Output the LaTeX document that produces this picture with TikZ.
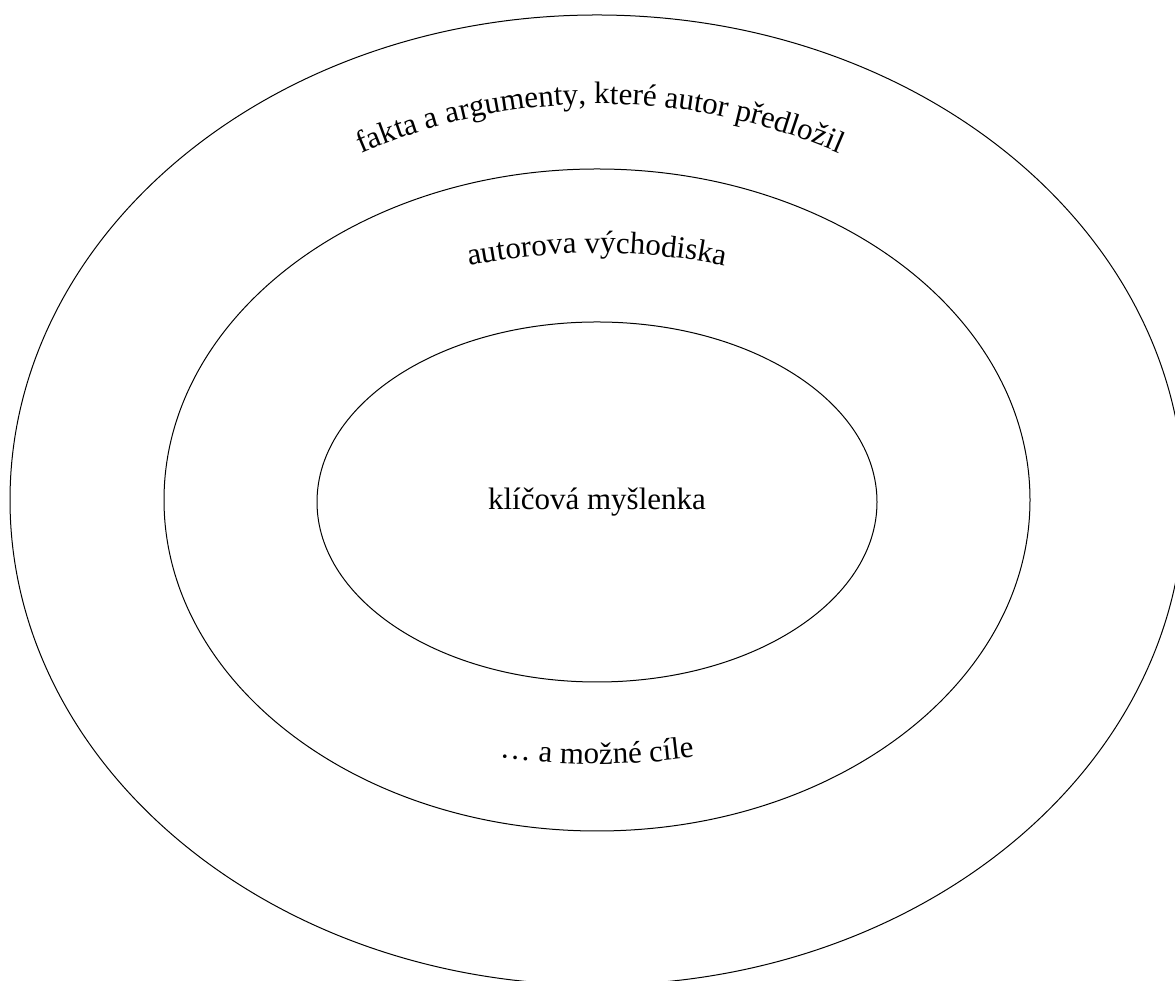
\documentclass[tikz,border=0pt]{standalone}
\usepackage{fontspec}
\setmainfont{Liberation Serif}
\usetikzlibrary{shapes.geometric,decorations.text}
\tikzset{
  ring/.style={ellipse, draw=black, line width=1pt, inner sep=0pt},
  lbl/.style={font=\fontsize{31}{36}\selectfont},
}
\begin{document}
\begin{tikzpicture}[x=1pt,y=1pt]
\useasboundingbox (0,0) rectangle (1175,981);
\clip (0,0) rectangle (1175,981);
\node[ring, minimum width=1174pt, minimum height=970pt] (outer) at (597,481) {};
\node[ring, minimum width=866pt, minimum height=662pt] (middle) at (597,481) {};
\node[ring, minimum width=560pt, minimum height=360pt, lbl] (inner) at (597,479) {klíčová myšlenka};
\path[decorate, decoration={text along path, text align=center,
  text={|\fontsize{31}{36}\selectfont|fakta a argumenty{,} které autor předložil}}]
  (600,277) ++(120:600) arc[start angle=120, end angle=60, radius=600];
\path[decorate, decoration={text along path, text align=center,
  text={|\fontsize{31}{36}\selectfont|autorova východiska}}]
  (597,78) ++(110:650) arc[start angle=110, end angle=70, radius=650];
\path[decorate, decoration={text along path, text align=center,
  text={|\fontsize{31}{36}\selectfont|… a možné cíle}}]
  (597,917) ++(250:700) arc[start angle=250, end angle=290, radius=700];
\end{tikzpicture}
\end{document}
